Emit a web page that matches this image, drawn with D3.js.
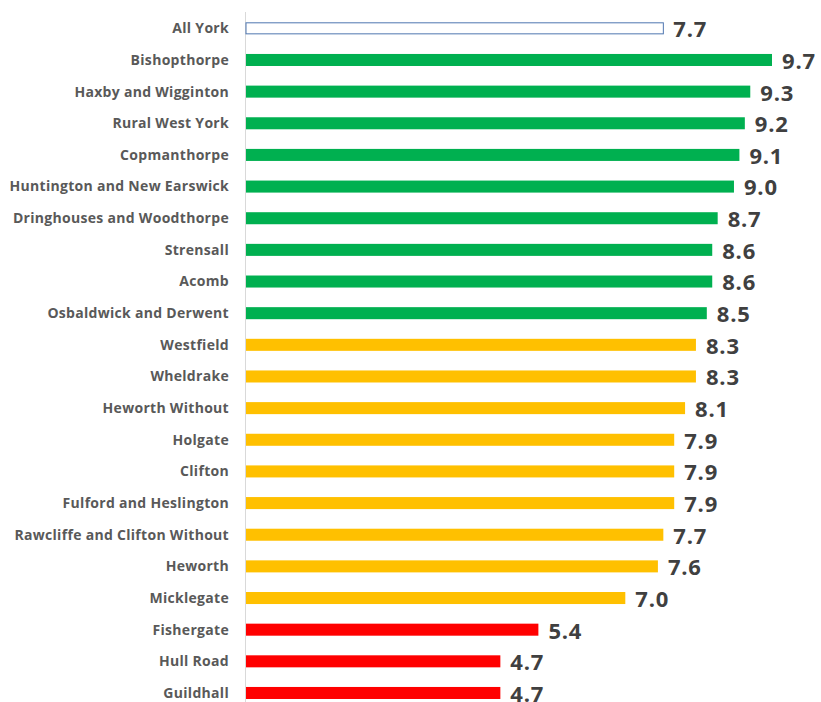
<!DOCTYPE html>
<html>
<head>
<meta charset="utf-8">
<script src="https://cdn.jsdelivr.net/npm/d3@7"></script>
<style>
  html, body { margin: 0; padding: 0; background: #ffffff; }
  svg { display: block; }
</style>
</head>
<body>
<svg id="chart" width="821" height="702"></svg>
<script>
// Ward names, top to bottom
const wards = [
  "All York", "Bishopthorpe", "Haxby and Wigginton", "Rural West York", "Copmanthorpe",
  "Huntington and New Earswick", "Dringhouses and Woodthorpe", "Strensall", "Acomb",
  "Osbaldwick and Derwent", "Westfield", "Wheldrake", "Heworth Without", "Holgate",
  "Clifton", "Fulford and Heslington", "Rawcliffe and Clifton Without", "Heworth",
  "Micklegate", "Fishergate", "Hull Road", "Guildhall"
];
// Score for each ward
const scores = [
  7.7, 9.7, 9.3, 9.2, 9.1,
  9.0, 8.7, 8.6, 8.6,
  8.5, 8.3, 8.3, 8.1, 7.9,
  7.9, 7.9, 7.7, 7.6,
  7.0, 5.4, 4.7, 4.7
];
// Rating band for each ward: overall, high, middle, low
const bands = [
  "overall", "high", "high", "high", "high",
  "high", "high", "high", "high",
  "high", "mid", "mid", "mid", "mid",
  "mid", "mid", "mid", "mid",
  "mid", "low", "low", "low"
];

const fillFor = { overall: "#ffffff", high: "#00b050", mid: "#ffc000", low: "#ff0000" };

const rows = wards.map((w, i) => ({ ward: w, score: scores[i], band: bands[i] }));

const svg = d3.select("#chart");
const x0 = 245;

const x = d3.scaleLinear().domain([0, 9.7]).range([x0, 772]);
const y = d3.scaleBand()
  .domain(wards)
  .range([12.5, 708.8])
  .paddingInner(0.62)
  .paddingOuter(0.31);

// Category axis line
svg.append("line")
  .attr("x1", x0 + 0.5).attr("x2", x0 + 0.5)
  .attr("y1", 12).attr("y2", 702)
  .attr("stroke", "#d9d9d9").attr("stroke-width", 1);

// Bars
svg.append("g").selectAll("rect")
  .data(rows)
  .join("rect")
  .attr("x", x0 + 1)
  .attr("y", d => y(d.ward) + (d.band === "overall" ? 0.5 : 0))
  .attr("width", d => x(d.score) - x0 - 1)
  .attr("height", d => y.bandwidth() - (d.band === "overall" ? 1 : 0))
  .attr("fill", d => fillFor[d.band])
  .attr("stroke", d => d.band === "overall" ? "#4f76b0" : "none")
  .attr("stroke-width", 1);

// Ward labels
svg.append("g").selectAll("text")
  .data(rows)
  .join("text")
  .attr("x", 229)
  .attr("y", d => y(d.ward) + y.bandwidth() / 2)
  .attr("dy", "0.35em")
  .attr("text-anchor", "end")
  .attr("font-family", "'Open Sans', sans-serif")
  .attr("font-weight", 700)
  .attr("font-size", 14)
  .attr("letter-spacing", 0.3)
  .attr("fill", "#595959")
  .text(d => d.ward);

// Value labels
svg.append("g").selectAll("text")
  .data(rows)
  .join("text")
  .attr("x", d => x(d.score) + 10)
  .attr("y", d => y(d.ward) + y.bandwidth() / 2 + 1)
  .attr("dy", "0.36em")
  .attr("font-family", "'Open Sans', sans-serif")
  .attr("font-weight", 700)
  .attr("font-size", 22)
  .attr("letter-spacing", 0.8)
  .attr("fill", "#404040")
  .text(d => d3.format(".1f")(d.score));
</script>
</body>
</html>
